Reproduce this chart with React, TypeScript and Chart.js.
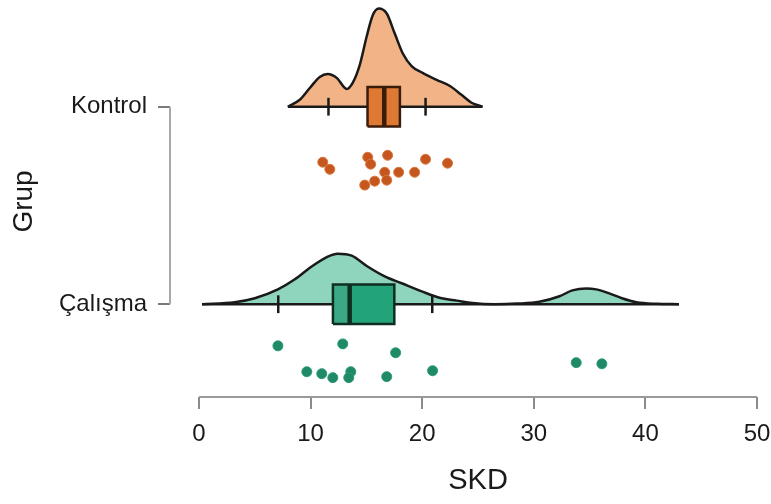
import React, { useEffect, useRef } from "react";
import { Chart, registerables } from "chart.js";

Chart.register(...registerables);

// ---- data ----
const groups = ["Kontrol", "Çalışma"];
const groupY = [2, 1];
const xTicks = [0, 10, 20, 30, 40, 50];

// half-violin (density) outlines
const kontrolDensX = [7.96, 9.03, 9.93, 10.82, 11.54, 12.34, 13.24, 13.77, 14.4, 15.03, 15.56, 16.1, 16.82, 17.53, 18.25, 19.05, 20.04, 21.29, 22.45, 23.52, 24.42, 25.4];
const kontrolDensH = [0, 0.035, 0.095, 0.151, 0.166, 0.146, 0.09, 0.121, 0.211, 0.357, 0.462, 0.497, 0.472, 0.372, 0.271, 0.206, 0.171, 0.136, 0.106, 0.06, 0.02, 0];
const calismaDensX = [0.27, 3.2, 5.0, 7.07, 8.59, 10.1, 11.54, 12.43, 13.68, 15.1, 16.64, 18.16, 19.95, 21.74, 23.1, 24.5, 26.5, 28.5, 30.5, 32.3, 33.45, 34.7, 35.6, 36.76, 37.9, 39.2, 41.0, 43.0];
const calismaDensH = [0, 0.01, 0.03, 0.075, 0.126, 0.191, 0.241, 0.256, 0.246, 0.191, 0.141, 0.106, 0.065, 0.03, 0.018, 0.006, 0, 0.003, 0.012, 0.04, 0.07, 0.08, 0.075, 0.055, 0.03, 0.01, 0.002, 0];

// box plot statistics [Kontrol, Çalışma]
const q1 = [15.1, 12.0];
const median = [16.6, 13.5];
const q3 = [18.0, 17.5];
const whiskerLo = [11.6, 7.1];
const whiskerHi = [20.3, 20.9];

// raw observations and their vertical jitter below the group line
const kontrolPoints = [11.09, 11.72, 15.12, 15.38, 16.9, 16.64, 17.89, 16.82, 14.85, 15.74, 19.32, 20.3, 22.27];
const kontrolJitter = [0.281, 0.317, 0.256, 0.291, 0.246, 0.332, 0.332, 0.372, 0.397, 0.377, 0.332, 0.266, 0.286];
const calismaPoints = [7.07, 12.88, 17.62, 9.66, 11.0, 11.99, 13.6, 13.42, 16.82, 20.93, 33.8, 36.1];
const calismaJitter = [0.211, 0.201, 0.246, 0.342, 0.352, 0.372, 0.342, 0.372, 0.367, 0.337, 0.296, 0.302];

const FONT = '"Liberation Sans", Arial, Helvetica, sans-serif';
const BOX_HALF = 0.1;
const CAP_HALF = 0.045;

const palette = [
  { dens: "#F2B487", boxA: "#DE7933", boxB: "#DE7933", edge: "#3a1c0b", dot: "#C4561E", dotEdge: "#D8783E" },
  { dens: "#8FD4BC", boxA: "#3BA985", boxB: "#22A37A", edge: "#0f2e22", dot: "#1E8A68", dotEdge: "#2f9a78" },
];

function buildDatasets() {
  const dens = [
    { xs: kontrolDensX, hs: kontrolDensH },
    { xs: calismaDensX, hs: calismaDensH },
  ];
  const pts = [
    { xs: kontrolPoints, js: kontrolJitter },
    { xs: calismaPoints, js: calismaJitter },
  ];
  const ds: any[] = [];
  groups.forEach((name, i) => {
    const g = groupY[i];
    const c = palette[i];
    const d = dens[i];
    // density
    ds.push({
      label: name + " density",
      data: d.xs.map((x, k) => ({ x, y: g + d.hs[k] })),
      fill: { value: g },
      backgroundColor: c.dens,
      borderColor: "#1a1a1a",
      borderWidth: 2.5,
      cubicInterpolationMode: "monotone",
      pointRadius: 0,
      order: 10,
    });
    // baseline of the density
    ds.push({
      label: name + " baseline",
      data: [
        { x: d.xs[0], y: g },
        { x: d.xs[d.xs.length - 1], y: g },
      ],
      borderColor: "#1a1a1a",
      borderWidth: 2.5,
      pointRadius: 0,
      fill: false,
      order: 9,
    });
    // box fills (q1 -> median, median -> q3)
    ds.push({
      label: name + " box low",
      data: [
        { x: q1[i], y: g + BOX_HALF },
        { x: median[i], y: g + BOX_HALF },
      ],
      fill: { value: g - BOX_HALF },
      backgroundColor: c.boxA,
      borderWidth: 0,
      pointRadius: 0,
      order: 8,
    });
    ds.push({
      label: name + " box high",
      data: [
        { x: median[i], y: g + BOX_HALF },
        { x: q3[i], y: g + BOX_HALF },
      ],
      fill: { value: g - BOX_HALF },
      backgroundColor: c.boxB,
      borderWidth: 0,
      pointRadius: 0,
      order: 8,
    });
    // box outline
    ds.push({
      label: name + " box",
      data: [
        { x: q1[i], y: g - BOX_HALF },
        { x: q1[i], y: g + BOX_HALF },
        { x: q3[i], y: g + BOX_HALF },
        { x: q3[i], y: g - BOX_HALF },
        { x: q1[i], y: g - BOX_HALF },
      ],
      borderColor: c.edge,
      borderWidth: 2.5,
      borderJoinStyle: "miter",
      pointRadius: 0,
      fill: false,
      order: 7,
    });
    // median
    ds.push({
      label: name + " median",
      data: [
        { x: median[i], y: g - BOX_HALF },
        { x: median[i], y: g + BOX_HALF },
      ],
      borderColor: c.edge,
      borderWidth: 4.5,
      pointRadius: 0,
      fill: false,
      order: 6,
    });
    // whisker caps
    [whiskerLo[i], whiskerHi[i]].forEach((w, k) => {
      ds.push({
        label: name + (k === 0 ? " whisker low" : " whisker high"),
        data: [
          { x: w, y: g - CAP_HALF },
          { x: w, y: g + CAP_HALF },
        ],
        borderColor: "#1a1a1a",
        borderWidth: 2.5,
        pointRadius: 0,
        fill: false,
        order: 5,
      });
    });
    // raw points
    const p = pts[i];
    ds.push({
      label: name + " points",
      data: p.xs.map((x, k) => ({ x, y: g - p.js[k] })),
      showLine: false,
      pointRadius: 5,
      pointHoverRadius: 5,
      pointBackgroundColor: c.dot,
      pointBorderColor: c.dotEdge,
      pointBorderWidth: 1,
      fill: false,
      order: 1,
    });
  });
  return ds;
}

const axisPlugin = {
  id: "raincloudAxes",
  beforeDatasetsDraw(chart: any) {
    const { ctx, chartArea, scales } = chart;
    const x = scales.x;
    const y = scales.y;
    ctx.save();
    // x axis line spanning the tick range
    ctx.strokeStyle = "#9a9a9a";
    ctx.lineWidth = 2;
    ctx.beginPath();
    ctx.moveTo(x.getPixelForValue(xTicks[0]), chartArea.bottom);
    ctx.lineTo(x.getPixelForValue(xTicks[xTicks.length - 1]), chartArea.bottom);
    ctx.stroke();
    // y axis bracket spanning the groups
    ctx.strokeStyle = "#a8a8a8";
    ctx.beginPath();
    ctx.moveTo(chartArea.left, y.getPixelForValue(Math.max(...groupY)));
    ctx.lineTo(chartArea.left, y.getPixelForValue(Math.min(...groupY)));
    ctx.stroke();
    ctx.restore();
  },
  afterDraw(chart: any) {
    const { ctx, chartArea, scales } = chart;
    const x = scales.x;
    ctx.save();
    ctx.fillStyle = "#1a1a1a";
    ctx.font = "29px " + FONT;
    ctx.textAlign = "center";
    ctx.textBaseline = "middle";
    const cx = (x.getPixelForValue(xTicks[0]) + x.getPixelForValue(xTicks[xTicks.length - 1])) / 2;
    ctx.fillText("SKD", cx, chartArea.bottom + 84);
    ctx.restore();
  },
};

export default function App() {
  const canvasRef = useRef<HTMLCanvasElement | null>(null);

  useEffect(() => {
    if (!canvasRef.current) return;
    const chart = new Chart(canvasRef.current, {
      type: "line",
      data: { datasets: buildDatasets() },
      options: {
        animation: false,
        responsive: true,
        maintainAspectRatio: false,
        layout: { padding: { top: 3, right: 14, left: 0, bottom: 0 } },
        plugins: {
          legend: { display: false },
          tooltip: { enabled: false },
          title: { display: false },
        },
        elements: { line: { tension: 0 } },
        scales: {
          x: {
            type: "linear",
            min: -2.6,
            max: 50,
            afterBuildTicks: (scale: any) => {
              scale.ticks = xTicks.map((v) => ({ value: v }));
            },
            afterFit: (scale: any) => {
              scale.height = 107;
              scale.paddingLeft = 0;
              scale.paddingRight = 0;
            },
            border: { display: false },
            grid: {
              drawOnChartArea: false,
              drawTicks: true,
              tickLength: 12,
              color: "#8a8a8a",
              lineWidth: 2,
            },
            ticks: {
              padding: 11,
              color: "#1a1a1a",
              font: { family: FONT, size: 24 },
              maxRotation: 0,
              autoSkip: false,
            },
          },
          y: {
            type: "linear",
            min: 0.53,
            max: 2.51,
            afterBuildTicks: (scale: any) => {
              scale.ticks = [...groupY].sort((a, b) => a - b).map((v) => ({ value: v }));
            },
            afterFit: (scale: any) => {
              scale.width = 170;
              scale.paddingTop = 0;
              scale.paddingBottom = 0;
            },
            border: { display: false },
            grid: {
              drawOnChartArea: false,
              drawTicks: true,
              tickLength: 12,
              color: "#7a7a7a",
              lineWidth: 2,
            },
            ticks: {
              padding: 11,
              color: "#1a1a1a",
              font: { family: FONT, size: 24 },
              autoSkip: false,
              callback: (value: any) => {
                const idx = groupY.indexOf(Number(value));
                return idx >= 0 ? groups[idx] : "";
              },
            },
            title: {
              display: true,
              text: "Grup",
              color: "#1a1a1a",
              font: { family: FONT, size: 28 },
              padding: { top: 7, bottom: 0 },
            },
          },
        },
      },
      plugins: [axisPlugin],
    });
    return () => chart.destroy();
  }, []);

  return (
    <div style={{ position: "fixed", left: 0, top: 0, width: 771, height: 504, background: "#ffffff" }}>
      <canvas ref={canvasRef} />
    </div>
  );
}
